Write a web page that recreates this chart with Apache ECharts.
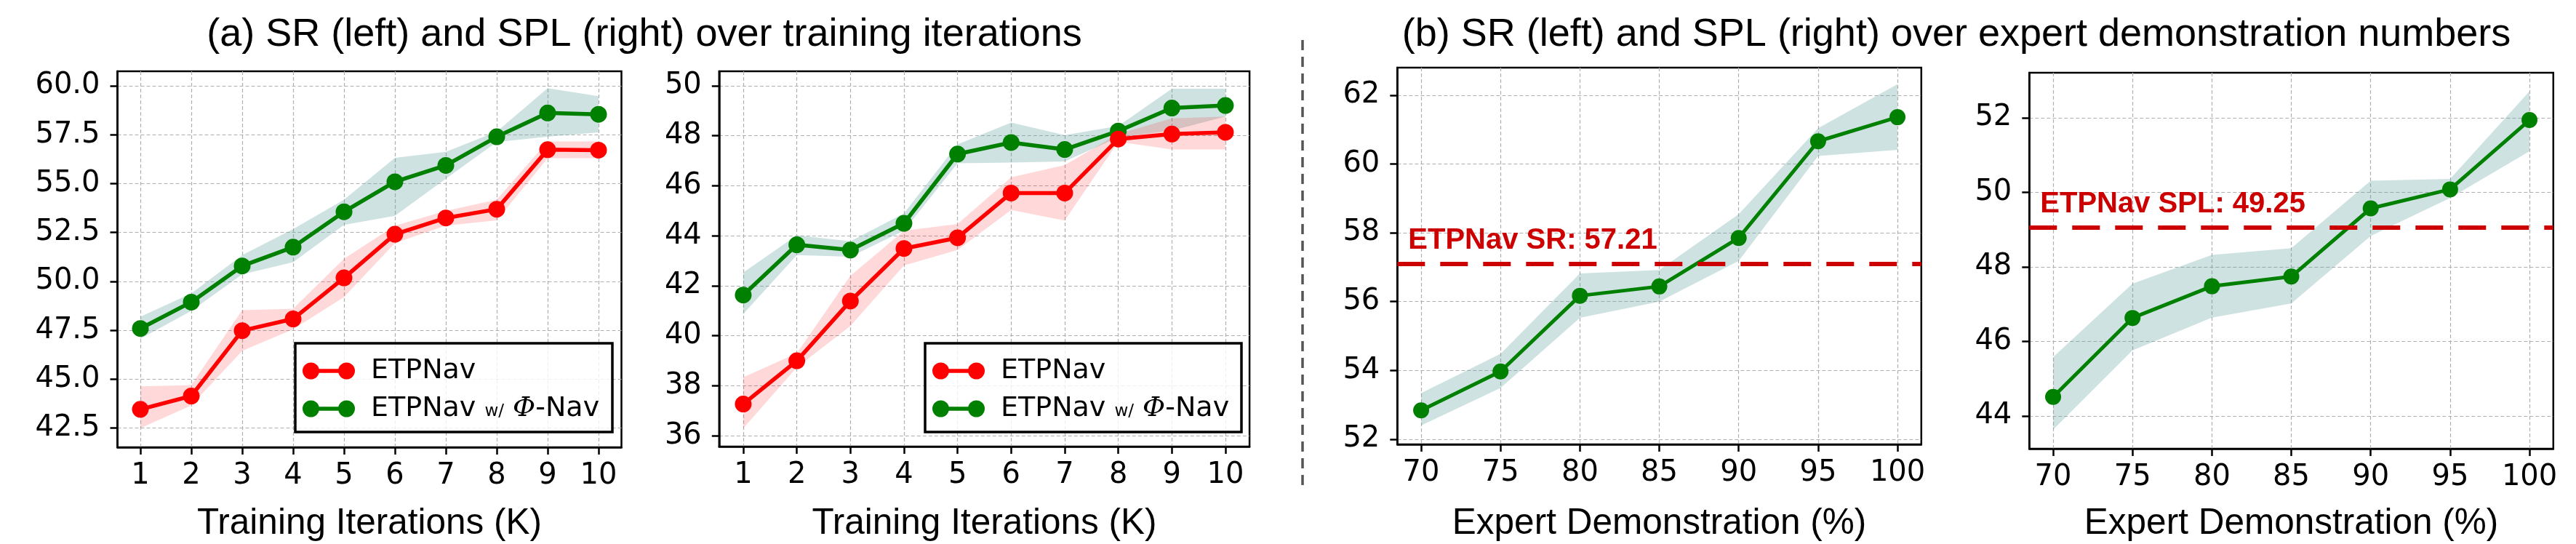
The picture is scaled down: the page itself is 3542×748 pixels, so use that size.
<!DOCTYPE html>
<html>
<head>
<meta charset="utf-8">
<script src="https://cdn.jsdelivr.net/npm/echarts@6/dist/echarts.min.js"></script>
<style>
html, body { margin: 0; padding: 0; background: #fff; }
#chart { width: 3542px; height: 748px; }
</style>
</head>
<body>
<div id="chart"></div>
<script>
// (a) training iterations
var iters = [1, 2, 3, 4, 5, 6, 7, 8, 9, 10];
var srBase    = [43.46, 44.14, 47.48, 48.08, 50.18, 52.41, 53.24, 53.69, 56.73, 56.71];
var srBaseLo  = [42.50, 43.66, 46.45, 47.55, 49.20, 51.96, 52.85, 53.12, 56.30, 56.30];
var srBaseHi  = [44.63, 44.70, 48.53, 48.60, 51.16, 52.85, 53.60, 54.18, 57.15, 57.15];
var srPhi     = [47.59, 48.94, 50.79, 51.75, 53.56, 55.09, 55.93, 57.39, 58.61, 58.54];
var srPhiLo   = [47.07, 48.49, 50.36, 50.98, 52.89, 53.35, 55.25, 57.12, 57.39, 57.62];
var srPhiHi   = [48.19, 49.38, 51.34, 52.67, 54.18, 56.32, 56.62, 57.65, 59.88, 59.47];
var splBase   = [37.27, 39.00, 41.39, 43.49, 43.92, 45.71, 45.71, 47.87, 48.07, 48.14];
var splBaseLo = [36.30, 38.73, 40.39, 42.81, 43.43, 45.03, 44.61, 47.76, 47.45, 47.45];
var splBaseHi = [38.34, 39.30, 42.40, 44.20, 44.47, 46.34, 46.83, 48.07, 48.70, 48.77];
var splPhi    = [41.63, 43.64, 43.43, 44.50, 47.27, 47.73, 47.45, 48.19, 49.11, 49.21];
var splPhiLo  = [40.87, 43.23, 43.16, 44.20, 46.90, 46.93, 46.97, 47.94, 48.21, 48.77];
var splPhiHi  = [42.53, 44.02, 43.78, 44.89, 47.66, 48.53, 48.03, 48.39, 49.88, 49.88];

// (b) expert demonstration
var demo      = [70, 75, 80, 85, 90, 95, 100];
var demoSr    = [52.84, 53.97, 56.17, 56.44, 57.85, 60.66, 61.36];
var demoSrLo  = [52.40, 53.49, 55.53, 56.00, 57.18, 60.23, 60.41];
var demoSrHi  = [53.34, 54.48, 56.82, 56.92, 58.54, 61.04, 62.32];
var demoSpl   = [44.51, 46.63, 47.48, 47.74, 49.57, 50.08, 51.94];
var demoSplLo = [43.63, 45.76, 46.64, 47.02, 48.83, 49.85, 51.10];
var demoSplHi = [45.58, 47.55, 48.32, 48.50, 50.31, 50.36, 52.71];

var refSr = 57.1, refSrText = 'ETPNav SR: 57.21';
var refSpl = 49.06, refSplText = 'ETPNav SPL: 49.25';

// tick labels
var ticksIter = [1, 2, 3, 4, 5, 6, 7, 8, 9, 10];
var ticksDemo = [70, 75, 80, 85, 90, 95, 100];
var ticksSrA  = [42.5, 45, 47.5, 50, 52.5, 55, 57.5, 60];
var ticksSplA = [36, 38, 40, 42, 44, 46, 48, 50];
var ticksSrB  = [52, 54, 56, 58, 60, 62];
var ticksSplB = [44, 46, 48, 50, 52];

var nameBase = 'ETPNav';
var namePhi = 'ETPNav w/ Φ-Nav';
var RED = '#ff0000', GREEN = '#008000';
var RED_BAND = 'rgba(255,0,0,0.15)', GREEN_BAND = 'rgba(95,158,160,0.3)';

var pairs = function (xs, ys) {
    return xs.map(function (x, i) { return [x, ys[i]]; });
};

var xAxisOpt = function (gi, min, max, ticks, name, gap) {
    return {
        type: 'value', gridIndex: gi, min: min, max: max,
        name: name, nameLocation: 'middle', nameGap: gap,
        nameTextStyle: { fontFamily: 'Liberation Sans', fontSize: 49.5, color: '#000' },
        axisLine: { show: true, onZero: false, lineStyle: { color: '#000', width: 2.5 } },
        axisTick: { show: true, length: 10, customValues: ticks, lineStyle: { color: '#000', width: 2.5 } },
        axisLabel: { customValues: ticks, margin: 20, fontFamily: 'DejaVu Sans', fontSize: 40, color: '#000' },
        splitLine: { show: true, customValues: ticks, lineStyle: { color: '#b0b0b0', width: 1.2, type: [5, 3] } }
    };
};

var yAxisOpt = function (gi, min, max, ticks, fmt) {
    return {
        type: 'value', gridIndex: gi, min: min, max: max,
        axisLine: { show: true, lineStyle: { color: '#000', width: 2.5 } },
        axisTick: { show: true, length: 10, customValues: ticks, lineStyle: { color: '#000', width: 2.5 } },
        axisLabel: { customValues: ticks, margin: 24, formatter: fmt, fontFamily: 'DejaVu Sans', fontSize: 40, color: '#000' },
        splitLine: { show: true, customValues: ticks, lineStyle: { color: '#b0b0b0', width: 1.2, type: [5, 3] } }
    };
};

// shaded band between lo and hi, drawn as one polygon through the axis scales
var bandSeries = function (gi, xs, lo, hi, color) {
    return {
        type: 'custom', xAxisIndex: gi, yAxisIndex: gi, silent: true, z: 1,
        data: xs.map(function (x, i) { return [x, lo[i], hi[i]]; }),
        encode: { x: 0, y: [1, 2] },
        renderItem: function (params, api) {
            if (params.dataIndex !== 0) return null;
            var top = xs.map(function (x, i) { return api.coord([x, hi[i]]); });
            var bot = xs.map(function (x, i) { return api.coord([x, lo[i]]); }).reverse();
            return { type: 'polygon', shape: { points: top.concat(bot) }, style: { fill: color } };
        }
    };
};

var lineSeries = function (gi, name, xs, ys, color, size, width, z) {
    return {
        name: name, type: 'line', xAxisIndex: gi, yAxisIndex: gi,
        data: pairs(xs, ys), symbol: 'circle', symbolSize: size,
        itemStyle: { color: color }, lineStyle: { color: color, width: width }, z: z
    };
};

var refLine = function (val, text) {
    return {
        symbol: 'none', silent: true,
        lineStyle: { color: '#cc0000', width: 6, type: [38, 21] },
        label: {
            show: true, position: 'insideStartTop', formatter: text, distance: [15, 12],
            color: '#cc0000', fontFamily: 'Liberation Sans', fontWeight: 'bold', fontSize: 40
        },
        data: [{ yAxis: val }]
    };
};

var initChart = function () {
    var chart = echarts.init(document.getElementById('chart'), null, { renderer: 'canvas' });

    var gridBase = { show: true, borderColor: '#000', borderWidth: 2.5, backgroundColor: 'transparent', containLabel: false, outerBoundsMode: 'none' };
    var grids = [
        { left: 161.5, top: 98, width: 693, height: 517 },
        { left: 988.8, top: 98, width: 729.3, height: 516 },
        { left: 1921.3, top: 93, width: 720.5, height: 518 },
        { left: 2790.3, top: 100, width: 720.5, height: 517 }
    ].map(function (g) { return Object.assign({}, gridBase, g); });

    var iconPath = 'path://M0,11.5A11.5,11.5,0,1,1,23,11.5A11.5,11.5,0,1,1,0,11.5ZM49,11.5A11.5,11.5,0,1,1,72,11.5A11.5,11.5,0,1,1,49,11.5ZM11.5,8.8L60.5,8.8L60.5,14.2L11.5,14.2Z';
    var legendOpt = function (left) {
        return {
            orient: 'vertical', left: left, top: 490, itemWidth: 72, itemHeight: 23, itemGap: 12, z: 60,
            selectedMode: false, padding: 0,
            data: [{ name: nameBase, icon: iconPath }, { name: namePhi, icon: iconPath }],
            formatter: function (n) {
                return n === namePhi ? 'ETPNav {s|w/} {m|Φ}-Nav' : n;
            },
            textStyle: {
                fontFamily: 'DejaVu Sans', fontSize: 38, color: '#000', lineHeight: 40, padding: [0, 0, 0, 17],
                rich: {
                    s: { fontFamily: 'DejaVu Sans', fontSize: 23, color: '#000', verticalAlign: 'bottom', padding: [0, 0, 4, 0] },
                    m: { fontFamily: 'DejaVu Serif', fontStyle: 'italic', fontSize: 38, color: '#000' }
                }
            }
        };
    };

    var series = [
        bandSeries(0, iters, srPhiLo, srPhiHi, GREEN_BAND),
        bandSeries(0, iters, srBaseLo, srBaseHi, RED_BAND),
        lineSeries(0, namePhi, iters, srPhi, GREEN, 23, 5.5, 3),
        lineSeries(0, nameBase, iters, srBase, RED, 23, 5.5, 4),
        bandSeries(1, iters, splPhiLo, splPhiHi, GREEN_BAND),
        bandSeries(1, iters, splBaseLo, splBaseHi, RED_BAND),
        lineSeries(1, namePhi, iters, splPhi, GREEN, 23, 5.5, 3),
        lineSeries(1, nameBase, iters, splBase, RED, 23, 5.5, 4),
        bandSeries(2, demo, demoSrLo, demoSrHi, GREEN_BAND),
        Object.assign(lineSeries(2, 'demoSr', demo, demoSr, GREEN, 22, 5, 3), { markLine: refLine(refSr, refSrText) }),
        bandSeries(3, demo, demoSplLo, demoSplHi, GREEN_BAND),
        Object.assign(lineSeries(3, 'demoSpl', demo, demoSpl, GREEN, 22, 5, 3), { markLine: refLine(refSpl, refSplText) })
    ];

    var option = {
        animation: false,
        backgroundColor: '#fff',
        title: [
            { text: '(a) SR (left) and SPL (right) over training iterations', left: 881, top: 16, textAlign: 'center',
              textStyle: { fontFamily: 'Liberation Sans', fontWeight: 'normal', fontSize: 54, color: '#000' } },
            { text: '(b) SR (left) and SPL (right) over expert demonstration numbers', left: 2685, top: 16, textAlign: 'center',
              textStyle: { fontFamily: 'Liberation Sans', fontWeight: 'normal', fontSize: 54, color: '#000' } }
        ],
        legend: [legendOpt(416), legendOpt(1282)],
        grid: grids,
        xAxis: [
            xAxisOpt(0, 0.55, 10.45, ticksIter, 'Training Iterations (K)', 80),
            xAxisOpt(1, 0.55, 10.45, ticksIter, 'Training Iterations (K)', 81),
            xAxisOpt(2, 68.5, 101.5, ticksDemo, 'Expert Demonstration (%)', 84),
            xAxisOpt(3, 68.5, 101.5, ticksDemo, 'Expert Demonstration (%)', 78)
        ],
        yAxis: [
            yAxisOpt(0, 41.52, 60.74, ticksSrA, function (v) { return v.toFixed(1); }),
            yAxisOpt(1, 35.57, 50.58, ticksSplA),
            yAxisOpt(2, 51.85, 62.80, ticksSrB),
            yAxisOpt(3, 43.12, 53.21, ticksSplB)
        ],
        graphic: [
            { type: 'line', z: 50, shape: { x1: 1791, y1: 55, x2: 1791, y2: 673 },
              style: { stroke: '#555', lineWidth: 3.5, lineDash: [14, 9] } },
            { type: 'rect', z: 50, shape: { x: 406, y: 472, width: 436, height: 122 },
              style: { fill: 'rgba(255,255,255,0.8)', stroke: '#000', lineWidth: 3.5 } },
            { type: 'rect', z: 50, shape: { x: 1272, y: 472, width: 435, height: 122 },
              style: { fill: 'rgba(255,255,255,0.8)', stroke: '#000', lineWidth: 3.5 } }
        ],
        series: series
    };
    chart.setOption(option);
};

initChart();
</script>
</body>
</html>
